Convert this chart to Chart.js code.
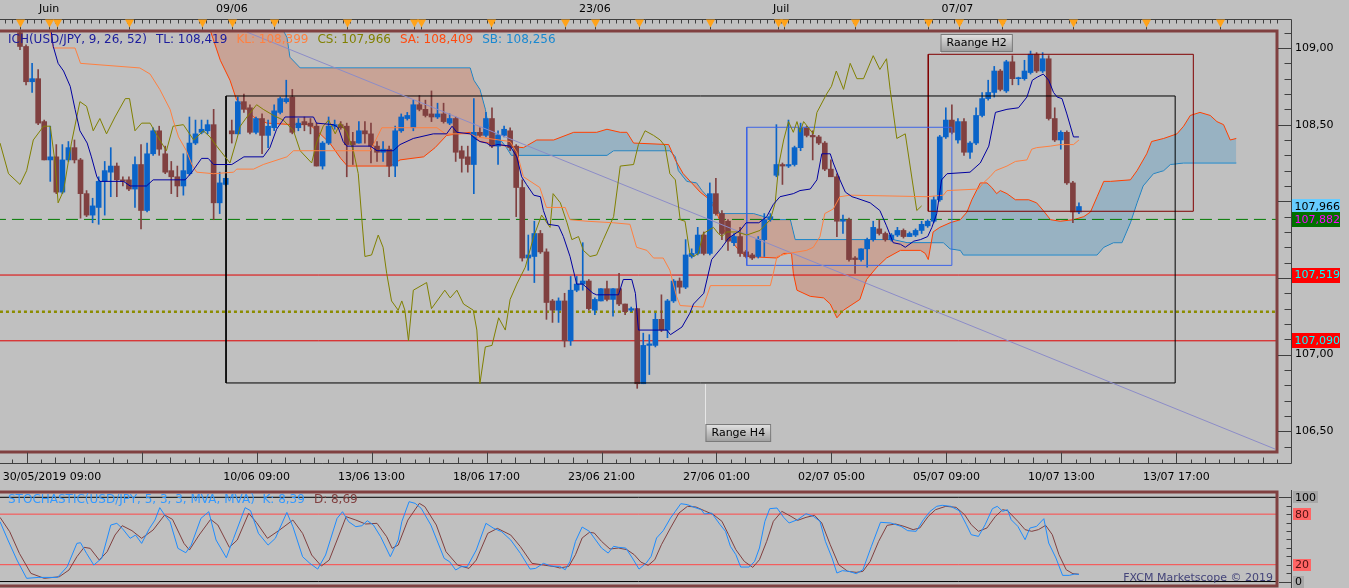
<!DOCTYPE html>
<html lang="fr">
<head>
<meta charset="UTF-8">
<title>USD/JPY H4 - Ichimoku / Stochastic</title>
<script src="https://cdn.jsdelivr.net/npm/chart.js@4.4.1/dist/chart.umd.min.js"></script>
<style>
  html, body { margin: 0; padding: 0; background: #c0c0c0; overflow: hidden; }
  #wrap { position: relative; width: 1349px; height: 588px; }
  #priceChart { position: absolute; left: 0; top: 0; }
  #stochChart { position: absolute; left: 0; top: 488px; }
</style>
</head>
<body>
<div id="wrap">
  <canvas id="priceChart" width="1349" height="488"></canvas>
  <canvas id="stochChart" width="1349" height="100"></canvas>
</div>
<script>
// ---- candles (H4), index 0 = first visible bar ----
const openP = [
  109.10,109.01,108.78,108.80,108.52,108.27,108.29,108.06,108.27,108.35,
  108.27,108.05,107.91,107.96,108.13,108.19,108.23,108.14,108.14,108.08,
  108.24,107.94,108.31,108.46,108.31,108.20,108.16,108.10,108.18,108.38,
  108.45,108.46,108.50,107.99,108.11,108.46,108.44,108.65,108.61,108.45,
  108.54,108.43,108.48,108.58,108.65,108.68,108.48,108.52,108.51,108.49,
  108.23,108.38,108.49,108.50,108.49,108.39,108.38,108.46,108.44,108.36,
  108.32,108.34,108.23,108.46,108.54,108.48,108.63,108.60,108.57,108.55,
  108.57,108.51,108.54,108.33,108.29,108.24,108.45,108.43,108.54,108.36,
  108.43,108.46,108.36,108.09,107.63,107.64,107.79,107.67,107.35,107.29,
  107.35,107.09,107.42,107.46,107.48,107.29,107.35,107.43,107.36,107.43,
  107.33,107.29,107.30,106.81,107.06,107.06,107.23,107.16,107.35,107.48,
  107.44,107.64,107.66,107.78,107.66,108.05,107.92,107.87,107.73,107.77,
  107.67,107.65,107.64,107.75,107.88,108.17,108.24,108.23,108.24,108.35,
  108.48,108.43,108.42,108.38,108.21,108.16,107.87,107.88,107.63,107.62,
  107.69,107.75,107.82,107.79,107.75,107.78,107.81,107.77,107.78,107.81,
  107.84,107.87,108.01,108.42,108.53,108.40,108.52,108.32,108.38,108.56,
  108.67,108.71,108.85,108.72,108.91,108.80,108.80,108.84,108.96,108.85,
  108.93,108.54,108.40,108.45,108.12,107.93
];
const highP = [
  109.12,109.02,108.90,108.86,108.53,108.49,108.37,108.37,108.39,108.40,
  108.28,108.07,108.02,108.16,108.26,108.35,108.25,108.16,108.16,108.29,
  108.37,108.38,108.48,108.49,108.36,108.26,108.23,108.31,108.55,108.53,
  108.53,108.53,108.60,108.19,108.20,108.53,108.68,108.70,108.63,108.55,
  108.57,108.53,108.63,108.68,108.79,108.73,108.54,108.55,108.54,108.51,
  108.39,108.55,108.53,108.52,108.51,108.45,108.52,108.52,108.51,108.39,
  108.39,108.36,108.49,108.57,108.58,108.66,108.69,108.66,108.72,108.64,
  108.64,108.57,108.55,108.36,108.36,108.67,108.48,108.58,108.61,108.46,
  108.49,108.48,108.37,108.14,107.78,107.87,107.81,107.69,107.36,107.37,
  107.40,107.51,107.51,107.73,107.49,107.37,107.43,107.48,107.43,107.53,
  107.33,107.31,107.30,107.14,107.13,107.27,107.39,107.36,107.49,107.50,
  107.75,107.69,107.83,107.80,108.12,108.15,107.94,107.88,107.79,107.83,
  107.68,107.66,107.77,107.92,107.92,108.50,108.25,108.53,108.36,108.51,
  108.49,108.46,108.43,108.39,108.27,108.18,107.91,107.89,107.64,107.69,
  107.76,107.87,107.88,107.80,107.79,107.83,107.82,107.80,107.82,107.87,
  107.88,108.03,108.43,108.61,108.63,108.54,108.54,108.39,108.61,108.71,
  108.79,108.88,108.86,108.92,108.95,108.81,108.92,108.98,108.97,108.97,
  108.95,108.61,108.46,108.46,108.13,107.99
];
const lowP = [
  108.99,108.76,108.71,108.50,108.27,108.13,108.05,108.05,108.26,108.25,
  107.89,107.90,107.86,107.85,107.91,108.03,108.03,108.10,108.07,107.96,
  107.82,107.93,108.30,108.30,108.18,108.05,108.03,108.04,108.17,108.37,
  108.44,108.44,107.88,107.92,108.10,108.38,108.44,108.58,108.44,108.44,
  108.31,108.35,108.46,108.57,108.64,108.44,108.46,108.46,108.44,108.23,
  108.21,108.37,108.47,108.47,108.16,108.24,108.38,108.38,108.25,108.26,
  108.26,108.16,108.16,108.45,108.53,108.46,108.59,108.55,108.52,108.54,
  108.51,108.50,108.26,108.19,108.19,108.05,108.42,108.42,108.35,108.24,
  108.42,108.33,107.90,107.61,107.55,107.47,107.66,107.23,107.21,107.21,
  107.05,107.06,107.41,107.42,107.29,107.26,107.35,107.35,107.25,107.32,
  107.26,107.28,106.78,106.81,106.87,107.05,107.15,107.11,107.34,107.40,
  107.43,107.63,107.65,107.65,107.65,107.91,107.75,107.68,107.71,107.64,
  107.63,107.62,107.63,107.64,107.87,108.16,108.11,108.22,108.23,108.33,
  108.42,108.27,108.37,108.20,108.16,107.77,107.79,107.61,107.53,107.61,
  107.57,107.74,107.78,107.74,107.74,107.77,107.76,107.77,107.77,107.79,
  107.83,107.86,108.00,108.41,108.44,108.38,108.30,108.28,108.37,108.55,
  108.66,108.68,108.72,108.71,108.76,108.76,108.79,108.83,108.84,108.84,
  108.53,108.39,108.34,108.11,107.86,107.92
];
const closeP = [
  109.01,108.78,108.80,108.51,108.27,108.29,108.06,108.27,108.35,108.27,
  108.05,107.91,107.97,108.13,108.20,108.23,108.14,108.13,108.08,108.24,
  107.94,108.31,108.46,108.34,108.19,108.16,108.10,108.20,108.38,108.44,
  108.47,108.50,107.99,108.12,108.15,108.44,108.65,108.60,108.45,108.54,
  108.43,108.49,108.59,108.67,108.67,108.45,108.51,108.50,108.49,108.23,
  108.38,108.49,108.50,108.48,108.37,108.37,108.46,108.44,108.36,108.32,
  108.34,108.23,108.46,108.55,108.56,108.63,108.60,108.56,108.55,108.57,
  108.52,108.54,108.32,108.28,108.24,108.45,108.43,108.54,108.36,108.43,
  108.47,108.35,108.09,107.63,107.65,107.79,107.67,107.34,107.29,107.35,
  107.09,107.42,107.46,107.48,107.30,107.36,107.43,107.36,107.43,107.33,
  107.28,107.30,106.81,107.06,107.07,107.23,107.16,107.35,107.48,107.44,
  107.65,107.66,107.78,107.66,108.05,107.92,107.79,107.74,107.77,107.66,
  107.64,107.63,107.75,107.88,107.90,108.24,108.23,108.24,108.35,108.48,
  108.43,108.42,108.38,108.21,108.16,107.87,107.88,107.62,107.62,107.69,
  107.75,107.83,107.79,107.75,107.78,107.81,107.77,107.79,107.81,107.85,
  107.87,108.01,108.42,108.53,108.45,108.52,108.32,108.38,108.56,108.67,
  108.71,108.85,108.73,108.91,108.80,108.80,108.85,108.96,108.85,108.93,
  108.54,108.40,108.45,108.12,107.93,107.966
];

// ---- Ichimoku lines: [bar index, price] ----
const tenkanPts = [[4.5,109.30],[5.5,109.01],[6.3,108.90],[7.2,108.85],[8.3,108.75],[9.1,108.60],[9.9,108.46],[11.1,108.38],[11.8,108.29],[12.7,108.16],[13.2,108.13],[17.1,108.13],[18.2,108.10],[20.9,108.10],[22,108.14],[27.3,108.14],[28.4,108.19],[30,108.28],[31.1,108.28],[32,108.24],[35,108.24],[37,108.29],[40.2,108.29],[41.3,108.35],[42.4,108.47],[43.8,108.55],[48.5,108.55],[49,108.51],[51.8,108.50],[52.6,108.48],[53.4,108.39],[54,108.36],[57.9,108.36],[59,108.33],[61.7,108.33],[62.8,108.37],[65,108.41],[66.1,108.42],[68.3,108.44],[70.5,108.44],[71.4,108.49],[72.2,108.45],[74.4,108.44],[75.2,108.41],[76,108.39],[77.1,108.38],[77.9,108.36],[79,108.37],[81,108.36],[82.1,108.29],[82.9,108.16],[83.7,108.11],[84.9,108.04],[86,108.03],[86.5,107.94],[87.3,107.85],[89,107.84],[89.8,107.77],[90.9,107.64],[92,107.46],[93,107.46],[94.7,107.40],[95.3,107.39],[98.9,107.39],[99.7,107.49],[101.1,107.49],[101.7,107.40],[102.2,107.16],[106.9,107.16],[107.5,107.13],[109.4,107.18],[110.7,107.27],[111.3,107.33],[113,107.40],[114.3,107.62],[116,107.70],[117.1,107.76],[119,107.81],[120,107.86],[122.1,107.86],[123.4,107.90],[124.5,107.98],[125.6,108.03],[127.8,108.05],[128.9,108.07],[130.6,108.08],[131.7,108.14],[132.5,108.31],[133.9,108.31],[134.4,108.25],[135.5,108.14],[136.4,108.06],[137.5,108.03],[138.3,108.02],[140.5,107.99],[142.1,107.94],[143.2,107.84],[144.3,107.73],[145.5,107.72],[146.3,107.70],[147.7,107.74],[148.8,107.75],[150,107.77],[150.7,107.83],[151.5,107.92],[152.3,108.14],[153.2,108.18],[157,108.19],[158.7,108.25],[160.1,108.36],[161.2,108.58],[163.1,108.60],[165,108.61],[166.4,108.68],[167.3,108.79],[168.1,108.81],[169.1,108.83],[170,108.79],[170.8,108.71],[171.4,108.68],[172.2,108.67],[173,108.57],[174.1,108.42],[175,108.42]];
const kijunPts = [[4,109.30],[5.5,109.00],[9.1,109.00],[10,108.90],[19.8,108.87],[21.5,108.83],[23.1,108.73],[24.8,108.60],[25.3,108.53],[26.2,108.42],[27.5,108.33],[28.4,108.24],[29.2,108.19],[32,108.18],[35.3,108.19],[35.8,108.21],[38.6,108.21],[40.2,108.24],[44.1,108.29],[45.2,108.33],[57.9,108.33],[59.8,108.48],[68.9,108.48],[70.3,108.44],[74.4,108.44],[75.5,108.42],[81,108.39],[82.1,108.32],[83.2,108.16],[85.9,108.09],[87,107.96],[90.1,107.96],[90.9,107.88],[93.7,107.87],[98.1,107.86],[100.8,107.85],[101.9,107.70],[103.6,107.68],[104.7,107.63],[106.3,107.63],[107.4,107.55],[108.5,107.38],[109.1,107.32],[112.9,107.31],[113.5,107.38],[114.1,107.45],[124,107.45],[124.5,107.53],[125.1,107.64],[127,107.66],[130,107.68],[131.1,107.70],[132.2,107.77],[133,107.92],[134.4,107.95],[135.5,108.03],[137.2,108.04],[149.9,108.03],[152.6,108.04],[153.2,108.07],[158.4,108.08],[159.2,108.12],[160.3,108.16],[161.2,108.20],[163.1,108.23],[164.5,108.26],[166.4,108.27],[167.2,108.34],[168,108.35],[170.3,108.36],[171.9,108.37],[174.1,108.37],[175,108.40]];
const chikouPts = [[-3.3,108.38],[-1.9,108.18],[0,108.11],[1.1,108.20],[2.2,108.40],[3.9,108.49],[5,108.49],[5.8,108.25],[6.3,107.99],[7.2,108.07],[8.5,108.38],[9.9,108.65],[11,108.62],[12.1,108.46],[13.2,108.54],[14.3,108.44],[15.7,108.55],[17.4,108.67],[18.1,108.67],[19,108.46],[20.1,108.51],[21.5,108.51],[23.1,108.40],[24.2,108.33],[25.3,108.49],[27,108.50],[28.7,108.40],[30.3,108.46],[31.4,108.42],[32.5,108.36],[34.7,108.25],[35.8,108.40],[36.4,108.49],[37.5,108.55],[39.1,108.63],[40.2,108.60],[41.9,108.56],[43.5,108.53],[45.2,108.46],[46.3,108.33],[48.2,108.25],[49,108.38],[50.1,108.49],[51,108.53],[52.1,108.44],[52.9,108.51],[54,108.45],[55.1,108.33],[55.9,108.18],[56.5,107.88],[57,107.64],[58.1,107.65],[59.2,107.78],[60,107.70],[60.6,107.53],[61.4,107.35],[62.5,107.29],[63.1,107.35],[63.6,107.29],[64.2,107.09],[65,107.42],[67.2,107.47],[68,107.30],[70.2,107.42],[71.1,107.37],[72.2,107.42],[73.3,107.33],[74.9,107.29],[75.5,107.16],[76,106.81],[76.9,107.05],[78,107.06],[79.1,107.24],[80.2,107.16],[81,107.36],[82.1,107.46],[83.5,107.57],[84.9,107.77],[86.2,107.91],[87.6,107.83],[88.1,108.05],[89.3,107.99],[90.4,107.86],[91.2,107.75],[92.3,107.77],[93.1,107.68],[94.2,107.64],[95.3,107.65],[96.4,107.75],[98.1,107.90],[99.2,108.23],[101.4,108.24],[102.2,108.37],[103.3,108.46],[104.7,108.43],[105.8,108.40],[106.6,108.36],[107.4,108.18],[108.3,108.14],[109.1,107.88],[109.9,107.87],[110.7,107.66],[111.3,107.64],[112.1,107.66],[112.9,107.79],[114.6,107.83],[115.4,107.79],[116,107.77],[116.8,107.80],[118.5,107.80],[120.1,107.78],[122.3,107.81],[124,107.88],[124.8,107.99],[125.4,108.24],[126.2,108.40],[127,108.52],[127.8,108.45],[128.4,108.52],[128.9,108.45],[129.5,108.52],[131.1,108.44],[131.7,108.58],[133.3,108.70],[134.1,108.75],[134.9,108.85],[136.1,108.73],[137.2,108.90],[138.3,108.80],[139.4,108.80],[141,108.95],[142.1,108.86],[143.2,108.93],[143.8,108.73],[144.9,108.41],[146.3,108.44],[148.2,107.94],[149,107.97]];
const spanAPts = [[26,109.40],[31.4,109.12],[33.1,108.92],[34.7,108.79],[35.8,108.66],[37.5,108.60],[38.6,108.55],[40.8,108.51],[45.2,108.50],[47.9,108.50],[49.6,108.44],[51.2,108.38],[53,108.28],[54.1,108.23],[61.2,108.23],[62.8,108.27],[66.7,108.29],[68.6,108.35],[70.5,108.43],[74.4,108.45],[76,108.39],[80.4,108.36],[83.2,108.35],[85.4,108.40],[88.2,108.40],[91.5,108.45],[95.3,108.45],[97,108.47],[99.2,108.45],[100.3,108.45],[101.4,108.38],[107.2,108.37],[108.3,108.27],[109.6,108.18],[111,108.12],[112.4,108.06],[114,108.01],[115.4,107.90],[116.2,107.82],[117.4,107.75],[119,107.67],[120.1,107.64],[125.1,107.63],[126.2,107.66],[127.5,107.66],[127.8,107.53],[128.4,107.42],[130.6,107.38],[132.8,107.37],[133.9,107.33],[135,107.24],[136.1,107.29],[138.8,107.36],[139.9,107.49],[141.6,107.57],[143.2,107.63],[145.5,107.68],[148.8,107.68],[149.6,107.66],[150.1,107.62],[150.9,107.80],[152,107.83],[153.7,107.86],[155.4,107.88],[156.5,107.93],[157.3,108.01],[158.7,108.12],[159.8,108.12],[160.6,108.09],[161.4,108.05],[162,108.07],[163.1,108.05],[164.5,108.01],[166.7,108.01],[168,107.99],[169.1,107.94],[170.3,107.88],[171.9,107.87],[174.1,107.88],[175.8,107.90],[176.9,107.93],[178,108.03],[179.1,108.13],[180.2,108.13],[183.5,108.14],[184.6,108.20],[186.2,108.31],[187,108.39],[189,108.41],[191.2,108.44],[192.3,108.49],[193.4,108.56],[195,108.58],[196.7,108.56],[197.8,108.52],[198.9,108.50],[200,108.40],[201,108.41]];
const spanBPts = [[31,109.30],[43,109.15],[44.1,109.07],[44.6,108.94],[46.3,108.87],[74.4,108.87],[75,108.79],[76,108.73],[76.9,108.60],[77.4,108.49],[78.8,108.43],[80.4,108.35],[81.2,108.30],[97,108.30],[98.1,108.33],[107.4,108.33],[108.3,108.29],[108.8,108.20],[110.2,108.13],[111.8,108.12],[112.7,108.07],[114.1,108.01],[115.7,107.92],[121.2,107.92],[122.9,107.90],[124.5,107.88],[127.3,107.88],[128.1,107.75],[144.3,107.75],[146.6,107.73],[152.6,107.73],[153.7,107.69],[155.4,107.68],[155.9,107.65],[178,107.65],[179.1,107.70],[180.7,107.73],[182.1,107.73],[183.5,107.86],[184.6,107.99],[185.6,108.10],[187.3,108.18],[189,108.20],[190.1,108.24],[192.3,108.25],[201,108.25]];

// ---- drawings: [x0, x1, priceLow, priceHigh] and levels ----
const rangeH4 = [34.05, 190.9, 106.815, 108.687];
const rangeBlue = [120.1, 154.0, 107.582, 108.483];
const rangeH2 = [150.1, 193.9, 107.935, 108.959];
const trendLine = [[37.5, 109.104], [207.4, 106.384]];
const levelValues = [107.882, 107.519, 107.280, 107.090];
const tagValues = [107.966, 107.882, 107.519, 107.090];
const rangeLabels = [['Range H4', 113.2, 106.815], ['Raange H2', 152.0, 108.959]];

// ---- time axis ----
const dateLabels = ['30/05/2019 09:00', '10/06 09:00', '13/06 13:00', '18/06 17:00', '23/06 21:00',
  '27/06 01:00', '02/07 05:00', '05/07 09:00', '10/07 13:00', '13/07 17:00'];
const datePos = [5.3, 39.1, 58.1, 77.1, 96.1, 115.1, 134.1, 153.1, 172.1, 191.1];
const topLabels = ['Juin', '09/06', '23/06', 'Juil', '07/07'];
const topPos = [4.8, 35.0, 95.0, 125.8, 154.9];
const eventPos = [0, 4.8, 6.1, 18, 30.1, 35.0, 42, 54, 65.1, 66.3, 77.9, 90, 95, 102.3, 114.1,
  125.3, 126.3, 138, 150.1, 155.2, 162.3, 174, 186, 198.3];

// ---- stochastic (5,3,3) ----
const stochK = [[-3.3,71.1],[-2.0,49.3],[-0.5,25.5],[1.1,3.8],[3.0,4.9],[6.2,4.9],[7.8,17.6],[9.4,45.3],[10.0,46.1],[11.0,33.4],[12.2,19.6],[13.5,27.5],[15.0,67.1],[16.0,69.1],[16.9,63.1],[18.2,51.3],[19.1,55.2],[20.1,45.3],[21.4,63.1],[22.3,73.0],[23.1,87.7],[23.9,79.0],[24.8,71.1],[26.1,39.4],[27.4,34.2],[28.3,43.3],[29.9,75.0],[31.2,82.9],[32.4,49.3],[34.1,28.3],[35.3,51.3],[37.2,87.7],[38.1,84.1],[39.4,57.2],[41.0,43.3],[42.2,51.3],[44.1,82.1],[45.1,65.1],[46.7,29.5],[47.9,21.6],[49.2,14.8],[50.5,31.5],[52.4,75.0],[53.3,82.9],[54.3,71.1],[55.5,65.1],[56.5,66.3],[57.4,72.2],[58.4,67.1],[59.6,53.2],[61.2,29.5],[62.5,49.3],[63.1,71.1],[64.3,94.8],[65.3,92.8],[66.3,86.9],[67.9,67.1],[70.1,27.5],[71.0,23.5],[72.0,13.7],[72.9,17.6],[73.9,17.6],[75.4,37.4],[77.0,69.1],[78.3,63.1],[79.6,59.2],[81.1,49.3],[82.7,33.4],[84.3,14.8],[85.2,15.6],[86.5,21.6],[87.8,18.4],[89.2,18.0],[90.1,14.0],[90.9,23.9],[91.8,47.7],[92.9,64.7],[94.1,59.6],[94.9,51.6],[96.1,39.8],[97.2,33.8],[98.1,41.8],[98.9,40.6],[100.1,39.8],[101.2,27.9],[102.3,14.8],[103.5,22.0],[104.3,29.9],[105.2,51.7],[106.3,60.4],[107.5,75.4],[108.3,83.3],[109.2,92.4],[110.3,91.3],[111.4,88.1],[112.6,85.3],[113.1,80.2],[114.3,81.3],[115.7,67.5],[116.6,59.5],[117.4,41.8],[118.3,31.9],[119.1,17.2],[120.5,17.2],[121.4,23.9],[122.2,39.8],[123.1,71.5],[123.9,86.5],[125.1,87.3],[126.2,76.2],[127.1,69.5],[128.5,73.4],[129.9,80.5],[131.1,77.4],[132.2,71.5],[133.1,47.7],[134.2,27.9],[135.0,10.1],[135.9,12.9],[137.0,12.1],[138.2,9.3],[139.3,14.0],[140.7,41.8],[142.2,70.3],[143.9,69.5],[145.6,65.5],[146.7,60.4],[148.1,59.6],[149.3,73.4],[150.4,83.3],[151.5,89.3],[152.4,90.5],[153.8,89.3],[155.2,84.1],[156.4,67.5],[157.2,55.6],[158.4,53.6],[159.5,67.5],[160.7,86.5],[161.5,89.3],[162.4,83.3],[163.2,85.3],[163.8,73.4],[164.9,65.5],[166.1,49.7],[166.9,63.5],[168.0,65.5],[169.2,74.6],[170.0,45.7],[171.2,27.9],[172.3,7.3],[173.4,7.3],[174.3,8.9],[175,8.4]];
const stochD = [[-3.3,76.2],[-1.7,59.2],[-0.1,33.4],[1.8,9.7],[4.0,3.8],[6.5,5.7],[8.1,13.7],[9.4,29.5],[10.6,40.6],[11.6,39.4],[13.1,25.5],[14.4,35.4],[15.7,55.2],[16.9,66.3],[18.5,60.4],[20.1,51.3],[22.0,61.2],[23.9,79.0],[25.2,73.8],[27.1,45.3],[28.0,37.4],[29.6,55.2],[31.5,73.8],[32.7,67.1],[34.6,40.6],[35.9,49.3],[37.8,81.0],[39.1,69.9],[40.9,51.3],[42.9,61.2],[45.1,73.0],[46.7,57.2],[48.2,31.5],[49.8,18.4],[51.1,25.5],[52.4,49.3],[53.9,77.0],[55.5,73.0],[57.1,68.3],[59.0,69.1],[60.6,53.2],[61.5,39.4],[62.5,43.3],[64.1,73.0],[66.0,92.8],[66.9,88.9],[68.8,67.1],[70.4,35.4],[72.3,19.6],[74.2,15.6],[75.4,25.5],[77.3,57.2],[78.9,63.1],[81.1,55.2],[82.7,41.4],[84.6,21.6],[86.5,19.6],[88.4,17.6],[89.2,16.1],[90.7,18.0],[91.8,31.9],[92.9,51.7],[94.1,58.4],[94.9,57.6],[96.1,47.7],[97.5,38.6],[98.9,39.8],[100.3,37.8],[101.5,31.9],[102.6,23.1],[103.8,19.2],[104.9,25.9],[106.0,43.7],[107.5,63.6],[108.9,81.3],[110.3,89.3],[111.7,88.5],[113.1,84.1],[114.6,79.4],[116.0,71.5],[117.1,55.6],[118.3,37.8],[119.7,23.9],[121.1,16.8],[122.2,25.9],[123.4,47.7],[124.5,71.5],[125.9,83.3],[127.4,77.4],[128.5,72.6],[129.9,76.2],[131.3,78.6],[132.5,69.5],[133.9,43.7],[135.3,20.0],[136.8,12.1],[138.2,10.9],[139.3,12.1],[140.5,23.9],[141.9,47.7],[143.3,66.7],[144.7,68.3],[146.1,65.5],[147.6,61.6],[148.7,63.6],[150.1,77.4],[151.3,85.3],[153.0,89.3],[154.7,88.1],[156.1,79.4],[157.2,67.5],[158.4,59.6],[159.8,63.6],[161.2,77.4],[162.4,85.3],[163.2,84.1],[164.9,71.5],[166.1,61.6],[167.2,59.6],[168.3,61.6],[169.5,66.7],[170.6,55.6],[171.7,31.9],[172.9,14.0],[174.0,9.3],[175,8.7]];
const stochLevels = [100, 80, 20, 0];

// ---------------------------------------------------------------
const X_MIN = -3.305, X_MAX = 207.73;
const Y_MIN = 106.3646, Y_MAX = 109.111;
const BULL = '#0a64c8', BEAR = '#804040';
const FONT = '"DejaVu Sans", Verdana, sans-serif';

Chart.defaults.font.family = FONT;
Chart.defaults.font.size = 11;
Chart.defaults.color = '#000';

const pts = arr => arr.map(([x, y]) => ({ x, y }));
const box = r => pts([[r[0], r[2]], [r[1], r[2]], [r[1], r[3]], [r[0], r[3]], [r[0], r[2]]]);
const hline = v => pts([[X_MIN - 1, v], [X_MAX + 3, v]]);
const fmt = (v, d) => v.toFixed(d).replace('.', ',');
const candleColor = openP.map((o, i) => closeP[i] >= o ? BULL : BEAR);

function line(data, color, extra) {
  return Object.assign({ type: 'line', data, borderColor: color, borderWidth: 1,
    pointRadius: 0, tension: 0, fill: false, order: 1 }, extra || {});
}

const levelStyles = [
  { borderColor: '#007a00', borderDash: [12, 6] },
  { borderColor: '#e00000' },
  { borderColor: '#8c8c00', borderDash: [3, 3], borderWidth: 2.5 },
  { borderColor: '#e00000' }
];

// frame drawn on top, right and bottom only (the panels have no left edge)
function panelFrame(ctx, a) {
  ctx.strokeStyle = '#804040';
  ctx.lineWidth = 3;
  ctx.strokeRect(a.left - 6, a.top, a.right - a.left + 6, a.bottom - a.top);
}

const priceFrame = {
  id: 'priceFrame',
  beforeDraw(chart) {
    const { ctx, width, height } = chart;
    ctx.save();
    ctx.fillStyle = '#c0c0c0';
    ctx.fillRect(0, 0, width, height);
    ctx.restore();
  },
  afterDraw(chart) {
    const { ctx, chartArea: a } = chart;
    const xs = chart.scales.x, ys = chart.scales.y;
    const rx = a.right + 14.5, ty = a.top - 11.5, by = a.bottom + 11.5;
    const px = v => Math.round(xs.getPixelForValue(v)) + 0.5;
    ctx.save();
    panelFrame(ctx, a);

    // rulers
    ctx.strokeStyle = '#404040';
    ctx.lineWidth = 1;
    ctx.beginPath();
    ctx.moveTo(0, ty); ctx.lineTo(rx, ty); ctx.lineTo(rx, by); ctx.lineTo(0, by);
    for (let k = -40; k < 160; k++) {
      const v = datePos[1] + k * 19 / 16;
      if (v < X_MIN || v > X_MAX) continue;
      ctx.moveTo(px(v), ty); ctx.lineTo(px(v), ty + 4);
    }
    for (let k = -20; k < 80; k++) {
      const v = datePos[1] + k * 19 / 8;
      if (v < X_MIN || v > X_MAX) continue;
      const len = k % 8 === 0 ? 11 : (k % 2 === 0 ? 6 : 4);
      ctx.moveTo(px(v), by); ctx.lineTo(px(v), by - len);
    }
    for (let k = 1064; k <= 1091; k++) {
      const y = Math.round(ys.getPixelForValue(k / 10)) + 0.5;
      ctx.moveTo(rx, y); ctx.lineTo(k % 5 === 0 ? a.right + 1 : rx - 7, y);
    }
    ctx.stroke();

    // event markers on the top ruler
    eventPos.forEach(v => {
      const x = px(v);
      ctx.strokeStyle = '#404040';
      ctx.beginPath(); ctx.moveTo(x, ty); ctx.lineTo(x, a.top - 1.5); ctx.stroke();
      ctx.fillStyle = '#ffa31a';
      ctx.beginPath(); ctx.moveTo(x - 4.5, ty); ctx.lineTo(x + 4.5, ty); ctx.lineTo(x, ty + 8);
      ctx.closePath(); ctx.fill();
    });

    ctx.font = '11px ' + FONT;
    ctx.textBaseline = 'middle';
    ctx.textAlign = 'center';
    ctx.fillStyle = '#000';
    topLabels.forEach((t, i) => ctx.fillText(t, xs.getPixelForValue(topPos[i]), 9));

    // drawing labels
    ctx.textAlign = 'left';
    rangeLabels.forEach(([t, xv, yv], i) => {
      const x = px(xv), y = Math.round(ys.getPixelForValue(yv));
      const w = ctx.measureText(t).width + 12, h = 18;
      const top = i === 0 ? y + 41 : y - 2 - h;
      ctx.strokeStyle = '#e6e6e6';
      ctx.beginPath();
      if (i === 0) { ctx.moveTo(x, y + 1); ctx.lineTo(x, top); } else { ctx.moveTo(x, y - 1); ctx.lineTo(x, top + h); }
      ctx.stroke();
      const g = ctx.createLinearGradient(0, top, 0, top + h);
      g.addColorStop(0, '#e4e4e4'); g.addColorStop(1, '#9c9c9c');
      ctx.fillStyle = g;
      ctx.fillRect(x, top, w, h);
      ctx.strokeStyle = '#7a7a7a';
      ctx.strokeRect(x + 0.5, top + 0.5, w - 1, h - 1);
      ctx.fillStyle = '#000';
      ctx.fillText(t, x + 6, top + h / 2 + 0.5);
    });

    // price tags on the right scale
    const tagStyle = [['#66ccff', '#000'], ['#007000', '#ff00ff'], ['#ff0000', '#00ffff'], ['#ff0000', '#00ffff']];
    tagValues.forEach((v, i) => {
      const y = ys.getPixelForValue(v);
      ctx.fillStyle = tagStyle[i][0];
      ctx.fillRect(rx + 0.5, Math.round(y - 7.5), 48, 15);
      ctx.fillStyle = tagStyle[i][1];
      ctx.fillText(fmt(v, 3), rx + 3, y + 0.5);
    });

    // indicator legend
    const legend = [['ICH(USD/JPY, 9, 26, 52)', '#1c1c9c'], ['TL: 108,419', '#1c1c9c'],
      ['KL: 108,399', '#ff8040'], ['CS: 107,966', '#808000'], ['SA: 108,409', '#ff4a10'],
      ['SB: 108,256', '#1a88d0']];
    ctx.font = '12px ' + FONT;
    let lx = 8;
    legend.forEach(([t, c]) => {
      ctx.fillStyle = c;
      ctx.fillText(t, lx, a.top + 9);
      lx += ctx.measureText(t).width + 9;
    });
    ctx.restore();
  }
};

// price scale labels hidden where a price tag sits on top of them
const hiddenByTag = v => tagValues.some(t => Math.abs(t - v) < 0.06);

new Chart(document.getElementById('priceChart'), {
  type: 'bar',
  data: {
    datasets: [
      line(pts(tenkanPts), '#0000a0'),
      line(pts(kijunPts), '#ff8040'),
      line(pts(chikouPts), '#808000'),
      line(pts(trendLine), '#8c8cc8', { order: 2 }),
      line(box(rangeH4), '#000000', { order: 3 }),
      line(box(rangeBlue), '#3c64e6', { order: 3 }),
      line(box(rangeH2), '#800000', { order: 3 }),
      {
        type: 'bar', order: 4, grouped: false, barThickness: 5, minBarLength: 1,
        data: openP.map((o, i) => ({ x: i, y: [o, closeP[i]] })),
        backgroundColor: candleColor, borderWidth: 0
      },
      {
        type: 'bar', order: 5, grouped: false, barThickness: 1,
        data: lowP.map((l, i) => ({ x: i, y: [l, highP[i]] })),
        backgroundColor: candleColor, borderWidth: 0
      },
      ...levelValues.map((v, i) => line(hline(v), '#000', Object.assign({ order: 6 }, levelStyles[i]))),
      line(pts(spanAPts), '#ff4000', {
        order: 7,
        fill: { target: '+1', above: 'rgba(112,164,196,0.5)', below: 'rgba(208,134,108,0.5)' }
      }),
      line(pts(spanBPts), '#0080d0', { order: 7 })
    ]
  },
  options: {
    responsive: false, animation: false, events: [], devicePixelRatio: 1,
    layout: { padding: { top: 31, left: 0, right: 0, bottom: 0 } },
    scales: {
      x: {
        type: 'linear', position: 'bottom', min: X_MIN, max: X_MAX, offset: false,
        grid: { display: false, drawTicks: true, tickLength: 19, offset: false }, border: { display: false },
        afterBuildTicks: s => { s.ticks = datePos.map(v => ({ value: v })); },
        afterFit: s => { s.height = 36; s.paddingLeft = 0; s.paddingRight = 0; },
        ticks: { autoSkip: false, maxRotation: 0, padding: 0, callback: (v, i) => dateLabels[i] }
      },
      y: {
        type: 'linear', position: 'right', min: Y_MIN, max: Y_MAX,
        grid: { display: false, drawTicks: false }, border: { display: false },
        afterFit: s => { s.width = 72; s.paddingTop = 0; s.paddingBottom = 0; },
        ticks: { stepSize: 0.5, includeBounds: false, padding: 18,
          callback: v => hiddenByTag(v) ? '' : fmt(v, 2) }
      }
    },
    plugins: { legend: { display: false }, tooltip: { enabled: false } }
  },
  plugins: [priceFrame]
});

// ---------------- stochastic panel ----------------
const stochFrame = {
  id: 'stochFrame',
  beforeDraw: priceFrame.beforeDraw,
  afterDraw(chart) {
    const { ctx, chartArea: a } = chart;
    const ys = chart.scales.y;
    const rx = a.right + 14.5;
    ctx.save();
    panelFrame(ctx, a);

    ctx.strokeStyle = '#404040';
    ctx.lineWidth = 1;
    ctx.beginPath();
    ctx.moveTo(rx, a.top - 2); ctx.lineTo(rx, chart.height);
    for (let v = 0; v <= 100; v += 10) {
      const y = Math.round(ys.getPixelForValue(v)) + 0.5;
      ctx.moveTo(rx, y); ctx.lineTo(v % 100 === 0 ? a.right + 2 : rx - 5, y);
    }
    ctx.stroke();

    ctx.font = '11px ' + FONT;
    ctx.textBaseline = 'middle';
    ctx.textAlign = 'left';
    stochLevels.forEach(v => {
      const y = ys.getPixelForValue(v), t = String(v);
      const w = ctx.measureText(t).width + 4;
      const side = v === 80 || v === 20;
      ctx.fillStyle = side ? '#ff6464' : '#a8a8a8';
      ctx.fillRect(rx + 1.5, Math.round(y - 6), w, 12);
      ctx.fillStyle = side ? '#501010' : '#000';
      ctx.fillText(t, rx + 3.5, y + 0.5);
    });

    ctx.textAlign = 'right';
    ctx.fillStyle = '#44447a';
    ctx.fillText('FXCM Marketscope \u00a9 2019', a.right - 4, a.bottom - 8);

    const title = 'STOCHASTIC(USD/JPY, 5, 3, 3, MVA, MVA)  K: 8,39';
    ctx.font = '12px ' + FONT;
    ctx.textAlign = 'left';
    ctx.fillStyle = '#3399ff';
    ctx.fillText(title, 8, a.top + 8);
    ctx.fillStyle = '#804040';
    ctx.fillText('D: 8,69', 8 + ctx.measureText(title).width + 9, a.top + 8);
    ctx.restore();
  }
};

new Chart(document.getElementById('stochChart'), {
  type: 'line',
  data: {
    datasets: [
      line(pts(stochK), '#1e8cff', { order: 1 }),
      line(pts(stochD), '#804040', { order: 2 }),
      ...stochLevels.map(v => line(hline(v), v === 80 || v === 20 ? '#ff4848' : '#000', { order: 3 }))
    ]
  },
  options: {
    responsive: false, animation: false, events: [], devicePixelRatio: 1,
    layout: { padding: { top: 4, bottom: 2, left: 0, right: 72 } },
    scales: {
      x: { type: 'linear', min: X_MIN, max: X_MAX, display: false },
      y: { type: 'linear', min: -5.3, max: 106.3, display: false }
    },
    plugins: { legend: { display: false }, tooltip: { enabled: false } }
  },
  plugins: [stochFrame]
});
</script>
</body>
</html>
